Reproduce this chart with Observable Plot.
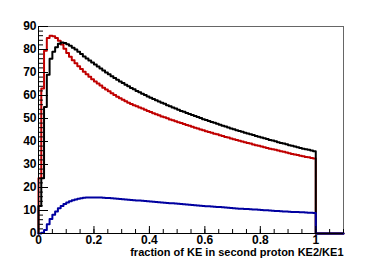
<!DOCTYPE html>
<html><head><meta charset="utf-8">
<script src="https://cdn.jsdelivr.net/npm/d3@7"></script>
<script src="https://cdn.jsdelivr.net/npm/@observablehq/plot@0.6"></script>
<style>html,body{margin:0;padding:0;background:#fff;}</style>
</head><body><div id="chart"></div>
<script>
// Histogram: 110 bins of width 0.01 on [0, 1.1]; bins beyond those listed are empty
const binWidth = 0.01;
const binCount = 110;

const blackCounts = [
  12,24,55,69,76,79,81,82.5,83,82.8,
  82.3,81.6,80.8,80,79,78,77,76.1,75.2,74.3,
  73.5,72.6,71.7,70.9,70.0,69.2,68.4,67.6,66.8,66.1,
  65.4,64.7,64.0,63.3,62.7,62.0,61.4,60.8,60.2,59.6,
  59.0,58.5,57.9,57.4,56.9,56.4,55.8,55.3,54.8,54.3,
  53.8,53.3,52.9,52.4,52.0,51.5,51.1,50.6,50.2,49.7,
  49.3,48.9,48.5,48.1,47.7,47.3,46.9,46.5,46.1,45.7,
  45.3,44.9,44.6,44.2,43.8,43.5,43.1,42.8,42.4,42.1,
  41.7,41.4,41.1,40.7,40.4,40.1,39.7,39.4,39.1,38.8,
  38.4,38.1,37.8,37.5,37.2,36.9,36.6,36.4,36.1,35.8
];
const redCounts = [
  24,63,79.5,85,86,85.8,85,83.8,82.2,80.3,
  78.5,76.8,75.3,74,72.7,71.5,70.3,69.2,68.1,67.1,
  66.1,65.2,64.3,63.4,62.6,61.8,61,60.2,59.5,58.8,
  58.1,57.5,56.9,56.3,55.8,55.3,54.8,54.3,53.8,53.3,
  52.8,52.3,51.8,51.4,50.9,50.5,50.1,49.6,49.2,48.8,
  48.4,48.0,47.6,47.2,46.8,46.4,46.0,45.6,45.2,44.9,
  44.5,44.1,43.8,43.4,43.1,42.7,42.4,42.0,41.7,41.3,
  41.0,40.7,40.3,40.0,39.7,39.4,39.1,38.7,38.4,38.1,
  37.8,37.5,37.2,36.9,36.6,36.4,36.1,35.8,35.5,35.2,
  34.9,34.6,34.4,34.1,33.8,33.6,33.3,33.1,32.8,32.6
];
const blueCounts = [
  0,0.3,1.5,4,6.3,8.1,9.6,11,12,12.8,
  13.5,14,14.5,14.8,15.1,15.3,15.5,15.6,15.7,15.7,
  15.7,15.6,15.6,15.5,15.4,15.4,15.3,15.2,15.1,15,
  14.9,14.8,14.7,14.6,14.5,14.4,14.3,14.2,14.1,14.0,
  13.9,13.8,13.7,13.6,13.5,13.4,13.3,13.2,13.1,13.0,
  12.9,12.8,12.7,12.6,12.5,12.4,12.3,12.2,12.1,12.0,
  11.9,11.8,11.7,11.6,11.5,11.5,11.4,11.3,11.2,11.1,
  11.0,10.9,10.8,10.8,10.7,10.6,10.5,10.4,10.4,10.3,
  10.2,10.1,10.1,10.0,9.9,9.8,9.8,9.7,9.6,9.6,
  9.5,9.4,9.4,9.3,9.2,9.2,9.1,9.0,9.0,8.9
];

const yMajorTicks = [0,10,20,30,40,50,60,70,80,90];
const yTickLabels = ["0","10","20","30","40","50","60","70","80","90"];
const yMinorTicks = [0,2,4,6,8,10,12,14,16,18,20,22,24,26,28,30,32,34,36,38,40,42,44,46,48,50,52,54,56,58,60,62,64,66,68,70,72,74,76,78,80,82,84,86,88,90];
const xMajorTicks = [0,0.2,0.4,0.6,0.8,1];
const xTickLabels = ["0","0.2","0.4","0.6","0.8","1"];
const xMinorTicks = [0,0.05,0.1,0.15,0.2,0.25,0.3,0.35,0.4,0.45,0.5,0.55,0.6,0.65,0.7,0.75,0.8,0.85,0.9,0.95,1,1.05,1.1];
const xTitle = "fraction of KE in second proton KE2/KE1";

function stepPoints(counts) {
  const pts = [{x: 0, y: 0}];
  for (let i = 0; i < binCount; i++) {
    pts.push({x: i * binWidth, y: i < counts.length ? counts[i] : 0});
  }
  pts.push({x: binCount * binWidth, y: 0});
  return pts;
}

const yLabel = new Map(yMajorTicks.map((t, i) => [t, yTickLabels[i]]));
const xLabel = new Map(xMajorTicks.map((t, i) => [t, xTickLabels[i]]));

const chart = Plot.plot({
  width: 382,
  height: 259,
  marginLeft: 38,
  marginRight: 39,
  marginTop: 26,
  marginBottom: 26,
  style: {fontFamily: "'Liberation Sans', Arial, sans-serif", fontSize: "12px", fontWeight: "bold", color: "#000", background: "#fff"},
  x: {domain: [0, binCount * binWidth]},
  y: {domain: [0, 90]},
  marks: [
    Plot.frame({stroke: "#666", strokeWidth: 1}),
    Plot.line(stepPoints(redCounts), {x: "x", y: "y", curve: "step-after", stroke: "#c00000", strokeWidth: 2}),
    Plot.line(stepPoints(blackCounts), {x: "x", y: "y", curve: "step-after", stroke: "#000", strokeWidth: 2}),
    Plot.line(stepPoints(blueCounts), {x: "x", y: "y", curve: "step-after", stroke: "#0000a0", strokeWidth: 2}),
    Plot.ruleX([0], {stroke: "#000", strokeWidth: 1}),
    Plot.ruleY([0], {stroke: "#000", strokeWidth: 1}),
    Plot.axisY({ticks: yMinorTicks, tickSize: -5, fill: "none", label: null}),
    Plot.axisY({ticks: yMajorTicks, tickSize: -10, tickPadding: 12, tickFormat: d => yLabel.get(d), label: null, fill: "#000"}),
    Plot.axisX({ticks: xMinorTicks, tickSize: -4, fill: "none", label: null}),
    Plot.axisX({ticks: xMajorTicks, tickSize: -7, tickPadding: 9, tickFormat: d => xLabel.get(d), label: null, fill: "#000"}),
    Plot.text([xTitle], {frameAnchor: "bottom-right", dy: 19, textAnchor: "end", lineAnchor: "middle", fill: "#000", fontSize: 11, fontWeight: "bold"})
  ]
});
document.getElementById("chart").appendChild(chart);
</script>
</body></html>
